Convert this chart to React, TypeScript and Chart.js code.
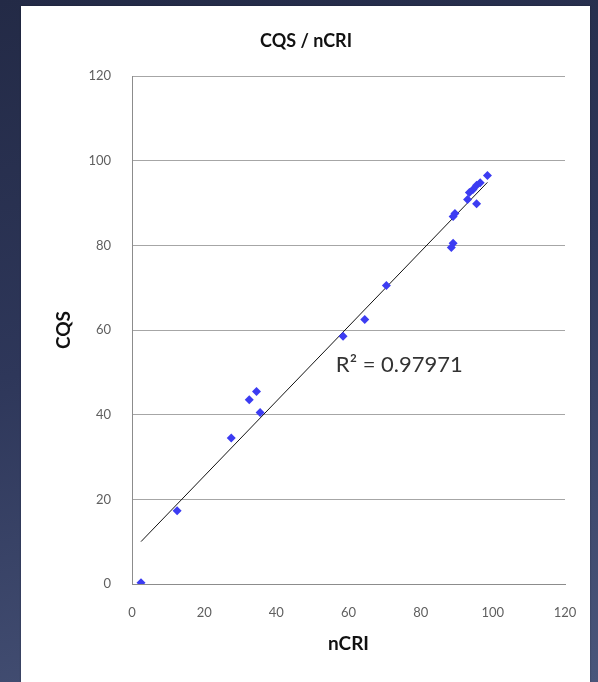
import React, { useEffect, useRef } from "react";
import { Chart, registerables } from "chart.js";

Chart.register(...registerables);

// ---- data ----
const nCRI = [2.5, 12.5, 27.5, 32.5, 34.5, 35.5, 58.5, 64.5, 70.5, 88.5, 89, 89, 89.5, 93, 93.5, 94.5, 95.5, 95.5, 96.5, 98.5];
const CQS = [0.3, 17.3, 34.5, 43.5, 45.5, 40.5, 58.5, 62.5, 70.5, 79.5, 80.5, 86.8, 87.5, 90.8, 92.5, 93.2, 94.2, 89.8, 94.8, 96.5];
const trendIntercept = 7.8;
const trendSlope = 0.884;
const rSquaredText = "R\u00B2 = 0.97971";
const chartTitle = "CQS / nCRI";
const xTitle = "nCRI";
const yTitle = "CQS";
const axisMin = 0;
const axisMax = 120;
const axisStep = 20;

// label anchor in data units
const labelAnchor = { x: 56.5, y: 51.7 };

const FONT = "Lato, 'Open Sans', sans-serif";

export default function App() {
  const canvasRef = useRef<HTMLCanvasElement | null>(null);

  useEffect(() => {
    document.body.style.margin = "0";
    const canvas = canvasRef.current;
    if (!canvas) return;
    const points = nCRI.map((x, i) => ({ x, y: CQS[i] }));
    const xMin = Math.min(...nCRI);
    const xMax = Math.max(...nCRI);
    const trend = [
      { x: xMin, y: trendIntercept + trendSlope * xMin },
      { x: xMax, y: trendIntercept + trendSlope * xMax },
    ];

    const labelPlugin = {
      id: "r2label",
      afterDatasetsDraw(chart: any) {
        const { ctx, scales } = chart;
        const px = scales.x.getPixelForValue(labelAnchor.x);
        const py = scales.y.getPixelForValue(labelAnchor.y);
        ctx.save();
        ctx.font = `22px ${FONT}`;
        ctx.fillStyle = "#333333";
        ctx.textAlign = "left";
        ctx.textBaseline = "middle";
        ctx.fillText(rSquaredText, px, py);
        ctx.restore();
      },
    };

    const chart = new Chart(canvas, {
      type: "scatter",
      data: {
        datasets: [
          {
            label: "CQS",
            data: points,
            pointStyle: "rectRot",
            pointRadius: 4.5,
            backgroundColor: "#3c3cf2",
            borderColor: "#3c3cf2",
            borderWidth: 0,
          },
          {
            type: "line",
            label: "trend",
            data: trend,
            borderColor: "#111111",
            borderWidth: 1,
            pointRadius: 0,
            fill: false,
          } as any,
        ],
      },
      options: {
        animation: false,
        responsive: false,
        maintainAspectRatio: false,
        layout: { padding: { left: 47, right: 33, top: 0, bottom: 0 } },
        plugins: {
          legend: { display: false },
          tooltip: { enabled: false },
          title: {
            display: true,
            text: chartTitle,
            color: "#111111",
            font: { family: FONT, size: 18, weight: "bold", lineHeight: 1.2 },
            padding: { top: 30, bottom: 24.4 },
          },
        },
        scales: {
          x: {
            type: "linear",
            min: axisMin,
            max: axisMax,
            ticks: {
              stepSize: axisStep,
              color: "#5f5f5f",
              font: { family: FONT, size: 13 },
              padding: 21,
              maxRotation: 0,
            },
            grid: { display: false, drawTicks: false },
            border: { display: true, color: "#8c8c8c", width: 1 },
            title: {
              display: true,
              text: xTitle,
              color: "#111111",
              font: { family: FONT, size: 19, weight: "bold", lineHeight: 1.2 },
              padding: { top: 0, bottom: 27 },
            },
            afterFit(scale: any) {
              scale.height = 98;
            },
          },
          y: {
            type: "linear",
            min: axisMin,
            max: axisMax,
            ticks: {
              stepSize: axisStep,
              color: "#5f5f5f",
              font: { family: FONT, size: 13 },
              padding: 21,
            },
            grid: { color: "#a6a6a6", drawTicks: false, lineWidth: 1 },
            border: { display: true, color: "#8c8c8c", width: 1 },
            title: {
              display: true,
              text: yTitle,
              color: "#111111",
              font: { family: FONT, size: 19, weight: "bold", lineHeight: 1.2 },
              padding: { top: 5, bottom: 0 },
            },
            afterFit(scale: any) {
              scale.width = 85;
            },
          },
        },
      },
      plugins: [labelPlugin],
    });
    return () => chart.destroy();
  }, []);

  return (
    <div
      style={{
        position: "fixed",
        left: 0,
        top: 0,
        width: 598,
        height: 682,
        overflow: "hidden",
        background: "linear-gradient(165deg, #232a46 0%, #2e375a 45%, #4a567b 100%)",
      }}
    >
      <div
        style={{
          position: "absolute",
          left: 21,
          top: 6,
          width: 569,
          height: 690,
          background: "#ffffff",
          boxShadow: "0 0 2px rgba(0,0,0,0.3)",
        }}
      />
      <canvas
        ref={canvasRef}
        width={598}
        height={682}
        style={{ position: "absolute", left: 0, top: 0, width: 598, height: 682 }}
      />
    </div>
  );
}
